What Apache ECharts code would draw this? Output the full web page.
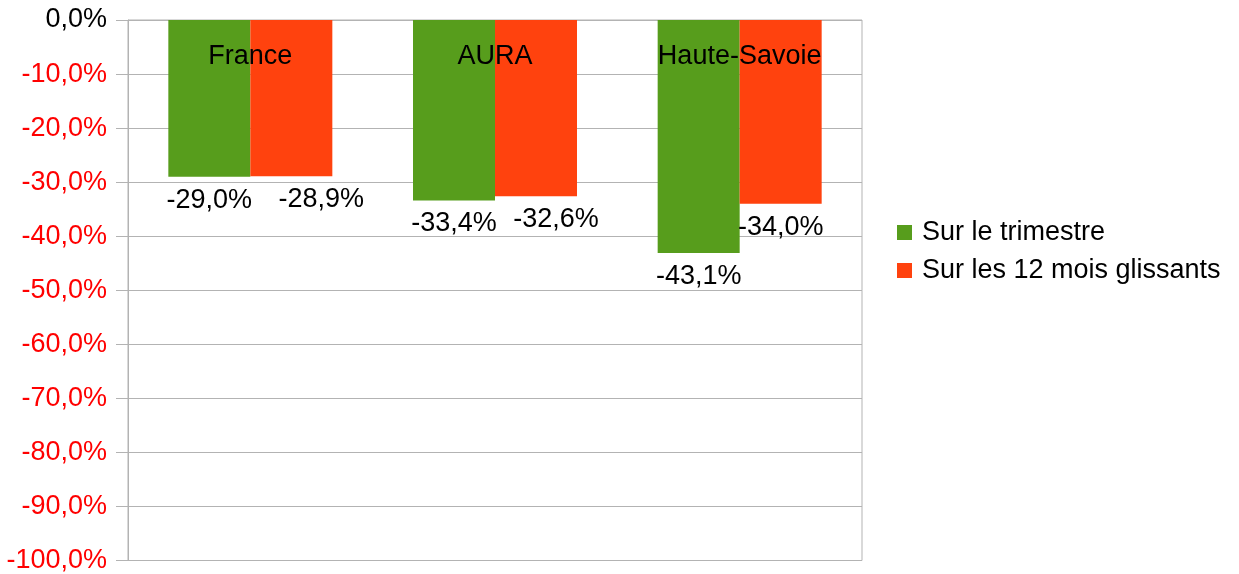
<!DOCTYPE html>
<html>
<head>
<meta charset="utf-8">
<script src="https://cdn.jsdelivr.net/npm/echarts@6/dist/echarts.min.js"></script>
<style>
  html, body { margin: 0; padding: 0; background: #fff; }
  #chart { width: 1239px; height: 574px; }
</style>
</head>
<body>
<div id="chart"></div>
<script>
var categories = ['France', 'AURA', 'Haute-Savoie'];
var trimestre = [-29.0, -33.4, -43.1];
var glissants = [-28.9, -32.6, -34.0];
var seriesNames = ['Sur le trimestre', 'Sur les 12 mois glissants'];
var colors = ['#579d1c', '#ff420e'];

var FONT = '"Liberation Sans", Arial, sans-serif';
var FS = 27;

function fmt(v) {
  return v.toFixed(1).replace('.', ',') + '%';
}

// LibreOffice nudged the red labels sideways to avoid overlap
var redShift = [30, 20, 0];

var option = {
  animation: false,
  color: colors,
  textStyle: { fontFamily: FONT },
  grid: { left: 128, right: 377, top: 20, bottom: 13, show: true, borderColor: '#b3b3b3', borderWidth: 1 },
  legend: {
    orient: 'vertical',
    left: 897,
    top: 219,
    padding: 0,
    itemWidth: 15,
    itemHeight: 15,
    itemGap: 11,
    icon: 'rect',
    textStyle: { fontSize: FS, color: '#000', fontFamily: FONT, padding: [0, 0, 0, 5] },
    data: seriesNames
  },
  xAxis: {
    type: 'category',
    position: 'top',
    data: categories,
    z: 10,
    axisLine: { show: false },
    axisTick: { show: false },
    axisLabel: { inside: true, margin: 23, fontSize: FS, color: '#000', fontFamily: FONT }
  },
  yAxis: {
    type: 'value',
    min: -100,
    max: 0,
    interval: 10,
    axisLine: { show: true, lineStyle: { color: '#b3b3b3' } },
    axisTick: { show: true, length: 12, lineStyle: { color: '#b3b3b3' } },
    splitLine: { lineStyle: { color: '#b3b3b3' } },
    axisLabel: {
      margin: 21,
      fontSize: FS,
      fontFamily: FONT,
      formatter: function (v) { return fmt(v); },
      color: function (v) { return Number(v) < 0 ? '#ff0000' : '#000000'; }
    }
  },
  series: [
    {
      name: seriesNames[0],
      type: 'bar',
      barWidth: 82,
      barGap: '0%',
      data: trimestre,
      label: {
        show: true, position: 'outside', distance: 10,
        fontSize: FS, color: '#000', fontFamily: FONT,
        formatter: function (p) { return fmt(p.value); }
      }
    },
    {
      name: seriesNames[1],
      type: 'bar',
      barWidth: 82,
      barGap: '0%',
      data: glissants.map(function (v, i) {
        return { value: v, label: { offset: [redShift[i], 0] } };
      }),
      label: {
        show: true, position: 'outside', distance: 10,
        fontSize: FS, color: '#000', fontFamily: FONT,
        formatter: function (p) { return fmt(p.value); }
      }
    }
  ]
};

var chart = echarts.init(document.getElementById('chart'));
chart.setOption(option);
</script>
</body>
</html>
